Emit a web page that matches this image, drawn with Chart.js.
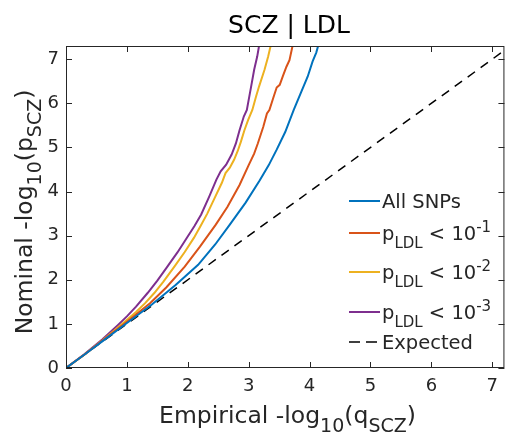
<!DOCTYPE html>
<html>
<head>
<meta charset="utf-8">
<script src="https://cdn.jsdelivr.net/npm/chart.js@4.4.1/dist/chart.umd.min.js"></script>
<style>
  html, body { margin: 0; padding: 0; background: #fff; }
</style>
</head>
<body>
<canvas id="qqPlot" width="506" height="435"></canvas>
<script>
// Q-Q curves (x = empirical, y = nominal)
const allX = [0, 0.3, 0.6, 1.0, 1.41, 1.8, 2.17, 2.45, 2.69, 2.95, 3.18, 3.33, 3.46, 3.6, 3.74, 3.86, 3.97, 4.05, 4.11, 4.14];
const allY = [0, 0.3, 0.61, 1.02, 1.44, 1.88, 2.34, 2.8, 3.25, 3.75, 4.25, 4.6, 4.95, 5.35, 5.85, 6.25, 6.61, 6.95, 7.15, 7.3];

const p1X = [0, 0.3, 0.6, 1.0, 1.2, 1.38, 1.65, 1.95, 2.2, 2.46, 2.65, 2.85, 3.0, 3.09, 3.15, 3.24, 3.30, 3.34, 3.41, 3.46, 3.51, 3.56, 3.62, 3.67, 3.72];
const p1Y = [0, 0.3, 0.62, 1.05, 1.27, 1.47, 1.83, 2.3, 2.75, 3.25, 3.65, 4.15, 4.6, 4.86, 5.09, 5.47, 5.77, 5.85, 6.15, 6.36, 6.42, 6.61, 6.83, 6.98, 7.3];

const p2X = [0, 0.3, 0.6, 0.95, 1.15, 1.3, 1.45, 1.6, 1.78, 1.95, 2.1, 2.21, 2.32, 2.45, 2.56, 2.62, 2.69, 2.76, 2.82, 2.87, 2.93, 2.99, 3.06, 3.12, 3.17, 3.26, 3.32, 3.36];
const p2Y = [0, 0.3, 0.63, 1.03, 1.27, 1.47, 1.7, 1.96, 2.3, 2.63, 2.95, 3.22, 3.5, 3.88, 4.2, 4.42, 4.54, 4.72, 4.92, 5.12, 5.39, 5.62, 5.85, 6.15, 6.38, 6.76, 7.06, 7.3];

const p3X = [0, 0.3, 0.6, 0.85, 1.0, 1.15, 1.34, 1.5, 1.65, 1.83, 1.97, 2.11, 2.22, 2.35, 2.47, 2.54, 2.63, 2.72, 2.79, 2.85, 2.92, 2.97, 3.0, 3.04, 3.09, 3.14, 3.17];
const p3Y = [0, 0.31, 0.65, 0.97, 1.17, 1.39, 1.7, 1.98, 2.27, 2.62, 2.92, 3.22, 3.48, 3.88, 4.27, 4.46, 4.61, 4.84, 5.09, 5.39, 5.7, 5.85, 6.08, 6.38, 6.76, 7.06, 7.3];

const expX = [0, 7.2];
const expY = [0, 7.2];

const xTicks = [0, 1, 2, 3, 4, 5, 6, 7];
const yTicks = [0, 1, 2, 3, 4, 5, 6, 7];

const FONT = '"DejaVu Sans", sans-serif';
const INK = '#262626';

function toPoints(xs, ys) {
    return xs.map((x, i) => ({ x: x, y: ys[i] }));
}

// draw text made of normal / sub (1) / sup (-1) pieces
function richWidth(ctx, parts, size, small) {
    let w = 0;
    parts.forEach(([t, m]) => {
        ctx.font = (m ? small : size) + 'px ' + FONT;
        w += ctx.measureText(t).width;
    });
    return w;
}
function drawRich(ctx, parts, x, y, size, small, subOff, supOff) {
    let cx = x;
    parts.forEach(([t, m]) => {
        ctx.font = (m ? small : size) + 'px ' + FONT;
        const dy = m === 1 ? subOff : (m === -1 ? supOff : 0);
        ctx.fillText(t, cx, y + dy);
        cx += ctx.measureText(t).width;
    });
}

const series = [
    { label: [['All SNPs', 0]], color: '#0072BD', dash: [] },
    { label: [['p', 0], ['LDL', 1], [' < 10', 0], ['-1', -1]], color: '#D95319', dash: [] },
    { label: [['p', 0], ['LDL', 1], [' < 10', 0], ['-2', -1]], color: '#EDB120', dash: [] },
    { label: [['p', 0], ['LDL', 1], [' < 10', 0], ['-3', -1]], color: '#7E2F8E', dash: [] },
    { label: [['Expected', 0]], color: '#000000', dash: [11, 6] }
];

// box with inward ticks on all four sides, plus title, axis labels and legend
const matlabAxes = {
    id: 'matlabAxes',
    afterDraw(chart) {
        const ctx = chart.ctx;
        const a = chart.chartArea;
        const xs = chart.scales.x, ys = chart.scales.y;
        ctx.save();
        ctx.strokeStyle = INK;
        ctx.lineWidth = 1;
        ctx.strokeRect(a.left + 0.5, a.top + 0.5, a.right - a.left - 1, a.bottom - a.top - 1);
        const tl = 6;
        ctx.beginPath();
        xs.ticks.forEach(t => {
            const px = Math.round(xs.getPixelForValue(t.value)) + 0.5;
            ctx.moveTo(px, a.bottom); ctx.lineTo(px, a.bottom - tl);
            ctx.moveTo(px, a.top); ctx.lineTo(px, a.top + tl);
        });
        ys.ticks.forEach(t => {
            const py = Math.round(ys.getPixelForValue(t.value)) + 0.5;
            ctx.moveTo(a.left, py); ctx.lineTo(a.left + tl, py);
            ctx.moveTo(a.right, py); ctx.lineTo(a.right - tl, py);
        });
        ctx.stroke();

        ctx.fillStyle = '#000';
        ctx.textBaseline = 'alphabetic';
        ctx.textAlign = 'left';

        // title
        ctx.font = '25px ' + FONT;
        const title = 'SCZ | LDL';
        ctx.fillText(title, 289 - ctx.measureText(title).width / 2, 33);

        // x label
        ctx.fillStyle = INK;
        const xl = [['Empirical -log', 0], ['10', 1], ['(q', 0], ['SCZ', 1], [')', 0]];
        const xw = richWidth(ctx, xl, 23.5, 19);
        drawRich(ctx, xl, 287.5 - xw / 2, 423, 23.5, 19, 9, 0);

        // y label
        const yl = [['Nominal -log', 0], ['10', 1], ['(p', 0], ['SCZ', 1], [')', 0]];
        const yw = richWidth(ctx, yl, 23.5, 19);
        ctx.save();
        ctx.translate(32, 212);
        ctx.rotate(-Math.PI / 2);
        drawRich(ctx, yl, -yw / 2, 0, 23.5, 19, 9, 0);
        ctx.restore();

        // legend
        const rowY = [201, 233, 272, 312, 342];
        series.forEach((s, i) => {
            const y = rowY[i];
            ctx.strokeStyle = s.color;
            ctx.lineWidth = i === 4 ? 1.5 : 2;
            ctx.setLineDash(s.dash);
            ctx.beginPath();
            ctx.moveTo(349, y);
            ctx.lineTo(i === 4 ? 377 : 380, y);
            ctx.stroke();
            ctx.setLineDash([]);
            ctx.fillStyle = INK;
            drawRich(ctx, s.label, 382, y + 7, 19.5, 15, 8, -8);
        });
        ctx.restore();
    }
};

const ctx = document.getElementById('qqPlot').getContext('2d');
const pairs = [[allX, allY], [p1X, p1Y], [p2X, p2Y], [p3X, p3Y], [expX, expY]];

new Chart(ctx, {
    type: 'scatter',
    data: {
        datasets: pairs.map((p, i) => ({
            label: series[i].label.map(l => l[0]).join(''),
            data: toPoints(p[0], p[1]),
            showLine: true,
            borderColor: series[i].color,
            borderWidth: i === 4 ? 1.5 : 2,
            borderDash: i === 4 ? [9, 7] : [],
            pointRadius: 0,
            tension: 0,
            fill: false
        }))
    },
    options: {
        responsive: false,
        animation: false,
        devicePixelRatio: 1,
        layout: { padding: { left: 0, right: 1, top: 46, bottom: 0 } },
        plugins: {
            legend: { display: false },
            title: { display: false },
            tooltip: { enabled: false }
        },
        scales: {
            x: {
                type: 'linear',
                min: 0,
                max: 7.2,
                grid: { display: false, drawTicks: false },
                border: { display: false },
                ticks: { autoSkip: false, maxRotation: 0, padding: 8, color: INK, font: { family: FONT, size: 18 } },
                afterBuildTicks: s => { s.ticks = xTicks.map(v => ({ value: v })); },
                afterFit: s => { s.height = 67; }
            },
            y: {
                type: 'linear',
                min: 0,
                max: 7.3,
                grid: { display: false, drawTicks: false },
                border: { display: false },
                ticks: { autoSkip: false, padding: 7, color: INK, font: { family: FONT, size: 18 } },
                afterBuildTicks: s => { s.ticks = yTicks.map(v => ({ value: v })); },
                afterFit: s => { s.width = 66; }
            }
        }
    },
    plugins: [matlabAxes]
});
</script>
</body>
</html>
